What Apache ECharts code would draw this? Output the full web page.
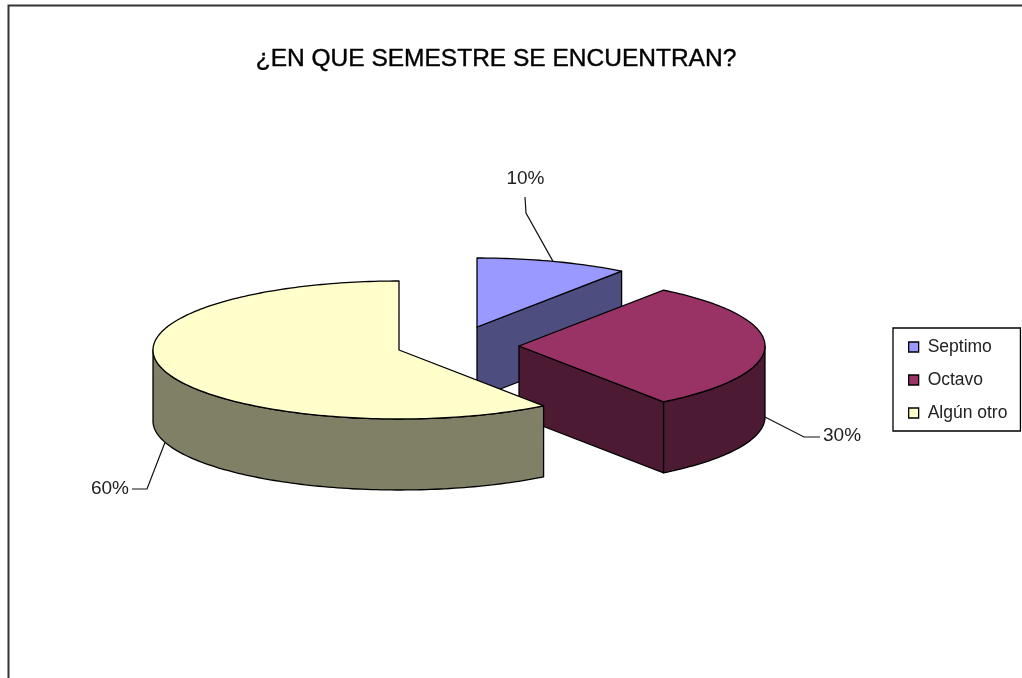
<!DOCTYPE html>
<html><head><meta charset="utf-8">
<style>html,body{margin:0;padding:0;background:#fff}#c{width:1022px;height:678px}</style>
<script src="https://cdn.jsdelivr.net/npm/echarts@6/dist/echarts.min.js"></script>
</head><body><div id="c"></div>
<script>
const categories = ['Septimo', 'Octavo', 'Algún otro'];
const values = [10, 30, 60];
const titleText = '¿EN QUE SEMESTRE SE ENCUENTRAN?';

const topColors = ['#9999FF', '#993366', '#FFFFCC'];
const sideColors = ['#4D4D80', '#4D1A33', '#808066'];
const apexes = [[477, 327], [519, 346], [399, 350]];
const RX = 246, RY = 69, DEPTH = 71;
const leaders = [
  {elbow: [526, 213], end: [525, 197], text: [525.5, 179], align: 'center', lower: false},
  {elbow: [804, 437], end: [820, 437], text: [823, 436], align: 'left', lower: true},
  {elbow: [147, 489], end: [132, 489], text: [129, 489], align: 'right', lower: true}
];
const total = values.reduce((a, b) => a + b, 0);
const starts = values.map((v, i) => values.slice(0, i).reduce((a, b) => a + b, 0) / total * Math.PI * 2);
const ends = values.map((v, i) => starts[i] + v / total * Math.PI * 2);

function pt(i, a, dz) {
  return [apexes[i][0] + RX * Math.sin(a), apexes[i][1] - RY * Math.cos(a) + (dz || 0)];
}
function arc(i, a0, a1, dz) {
  const n = Math.max(2, Math.ceil((a1 - a0) / 0.02));
  const r = [];
  for (let k = 0; k <= n; k++) r.push(pt(i, a0 + (a1 - a0) * k / n, dz));
  return r;
}
function poly(points, fill) {
  return {type: 'polygon', shape: {points}, style: {fill, stroke: '#000', lineWidth: 1.3, lineJoin: 'round'}};
}
function renderSlice(i) {
  return function () {
    const a0 = starts[i], a1 = ends[i], [ax, ay] = apexes[i];
    const children = [];
    const PI = Math.PI;
    const apexTop = [ax, ay], apexBot = [ax, ay + DEPTH];
    // radial faces are visible only when their outward normal points to the viewer
    if (Math.cos(a0 - PI / 2) < -1e-6) {
      children.push(poly([apexTop, pt(i, a0), pt(i, a0, DEPTH), apexBot], sideColors[i]));
    }
    if (Math.cos(a1 + PI / 2) < -1e-6) {
      children.push(poly([apexTop, pt(i, a1), pt(i, a1, DEPTH), apexBot], sideColors[i]));
    }
    // outer wall: front half of the rim (angles between 90 and 270 deg)
    const w0 = Math.max(a0, PI / 2), w1 = Math.min(a1, 3 * PI / 2);
    if (w1 > w0) {
      children.push(poly(arc(i, w0, w1, 0).concat(arc(i, w0, w1, DEPTH).reverse()), sideColors[i]));
    }
    // top face
    children.push(poly([apexTop].concat(arc(i, a0, a1, 0)), topColors[i]));
    // leader and label
    const mid = (a0 + a1) / 2, L = leaders[i];
    const anchor = pt(i, mid, L.lower ? DEPTH : 0);
    children.push({type: 'polyline', shape: {points: [anchor, L.elbow, L.end]},
      style: {stroke: '#111', lineWidth: 1.2, fill: null}});
    children.push({type: 'text', x: L.text[0], y: L.text[1], style: {
      text: Math.round(values[i] / total * 100) + '%', fill: '#222',
      font: '19px "Liberation Sans", Arial, sans-serif', align: L.align, verticalAlign: 'middle'}});
    return {type: 'group', children};
  };
}

const chart = echarts.init(document.getElementById('c'), null, {renderer: 'canvas'});
chart.setOption({
  animation: false,
  backgroundColor: '#fff',
  title: {
    text: titleText, left: 491, top: 42, textAlign: 'center',
    textStyle: {fontFamily: '"Liberation Sans", Arial, sans-serif', fontSize: 24.5, fontWeight: 'normal', color: '#000',
      textBorderColor: '#000', textBorderWidth: 0.4}
  },
  legend: {
    orient: 'vertical', left: 893, top: 328,
    padding: [10, 13, 9, 15], itemGap: 15, itemWidth: 10, itemHeight: 10,
    borderColor: '#000', borderWidth: 1.3, backgroundColor: '#fff',
    icon: 'rect', selectedMode: false,
    data: categories,
    itemStyle: {borderColor: '#000', borderWidth: 1.3},
    textStyle: {fontFamily: '"Liberation Sans", Arial, sans-serif', fontSize: 17.5, color: '#222', padding: [0, 0, 0, 4]}
  },
  graphic: [{
    type: 'rect', silent: true, z: -1,
    shape: {x: 8.5, y: 5.5, width: 1100, height: 800},
    style: {fill: null, stroke: '#333', lineWidth: 2}
  }],
  series: categories.map((name, i) => ({
    type: 'custom', name, coordinateSystem: 'none', silent: true,
    itemStyle: {color: topColors[i]},
    data: [values[i]],
    z: 2 + i,
    renderItem: renderSlice(i)
  }))
});
</script></body></html>
